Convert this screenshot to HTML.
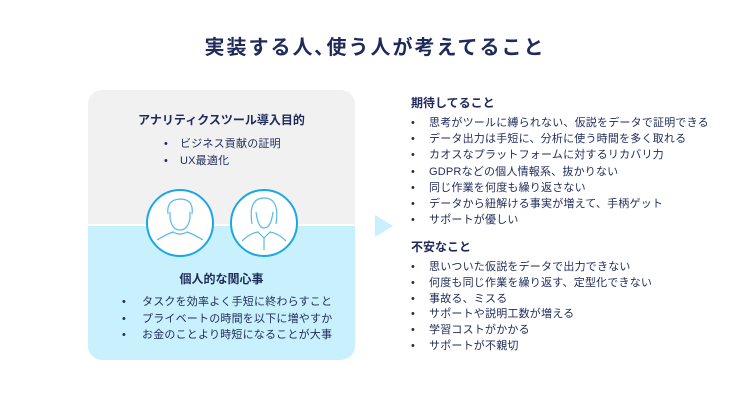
<!DOCTYPE html>
<html><head><meta charset="utf-8"><style>
body{margin:0;width:750px;height:403px;background:#fff;font-family:"Liberation Sans","Noto Sans CJK JP",sans-serif;color:#1f2a5a;position:relative;overflow:hidden}
.a{position:absolute;white-space:nowrap}
.t{font-size:11px;letter-spacing:0.2px}
.b{font-weight:bold}
</style></head><body>
<div class="a b" style="left:0;width:750px;text-align:center;top:31px;font-size:20px;letter-spacing:2px">実装する人､使う人が考えてること</div>
<div class="a" style="left:88px;top:90px;width:267px;height:270px;border-radius:14px;overflow:hidden">
<div style="position:absolute;left:0;top:0;width:100%;height:134px;background:#f1f1f1"></div>
<div style="position:absolute;left:0;top:136px;width:100%;height:134px;background:#c8f1fd"></div>
</div>
<svg class="a" style="left:0;top:0" width="750" height="403">
<g fill="#fff" stroke="#1aa7e8" stroke-width="2"><circle cx="180" cy="223" r="33"/><circle cx="264" cy="223" r="33"/></g>
<g fill="none" stroke="#5ab8e8" stroke-width="1.2">
<path d="M168 214 q-2-14 12-15 q14 0 12 15"/><path d="M170 212 v6 q2 12 10 12 q8 0 10-12 v-6"/><path d="M157 240 q10-6 16-8 q7 4 14 0 q6 2 16 8"/>
<path d="M252 224 q-4-26 12-26 q16 0 12 26"/><path d="M256 212 q2 16 8 16 q7 0 9-16"/><path d="M242 241 q8-8 16-9 l6 6 l6-6 q8 1 16 9 M264 238 v12"/>
</g>
<polygon points="375,215 393,226 375,237" fill="#c8f1fd"/>
</svg>
<div class="a b" style="left:88px;width:267px;text-align:center;top:111px;font-size:12px">アナリティクスツール導入目的</div>
<div class="a t" style="left:164px;top:136px;line-height:16.5px">•<br>•</div>
<div class="a t" style="left:180px;top:136px;line-height:16.5px">ビジネス貢献の証明<br>UX最適化</div>
<div class="a b" style="left:88px;width:267px;text-align:center;top:270px;font-size:12px">個人的な関心事</div>
<div class="a t" style="left:122px;top:294px;line-height:16.5px">•<br>•<br>•</div>
<div class="a t" style="left:142px;top:294px;line-height:16.5px">タスクを効率よく手短に終わらすこと<br>プライベートの時間を以下に増やすか<br>お金のことより時短になることが大事</div>
<div class="a b" style="left:411px;top:94px;font-size:12px">期待してること</div>
<div class="a t" style="left:411px;top:115px;line-height:16.2px">•<br>•<br>•<br>•<br>•<br>•<br>•</div>
<div class="a t" style="left:429px;top:115px;line-height:16.2px">思考がツールに縛られない、仮説をデータで証明できる<br>データ出力は手短に、分析に使う時間を多く取れる<br>カオスなプラットフォームに対するリカバリ力<br>GDPRなどの個人情報系、抜かりない<br>同じ作業を何度も繰り返さない<br>データから紐解ける事実が増えて、手柄ゲット<br>サポートが優しい</div>
<div class="a b" style="left:411px;top:238px;font-size:12px">不安なこと</div>
<div class="a t" style="left:411px;top:260px;line-height:15.8px">•<br>•<br>•<br>•<br>•<br>•</div>
<div class="a t" style="left:429px;top:260px;line-height:15.8px">思いついた仮説をデータで出力できない<br>何度も同じ作業を繰り返す、定型化できない<br>事故る、ミスる<br>サポートや説明工数が増える<br>学習コストがかかる<br>サポートが不親切</div>
</body></html>
